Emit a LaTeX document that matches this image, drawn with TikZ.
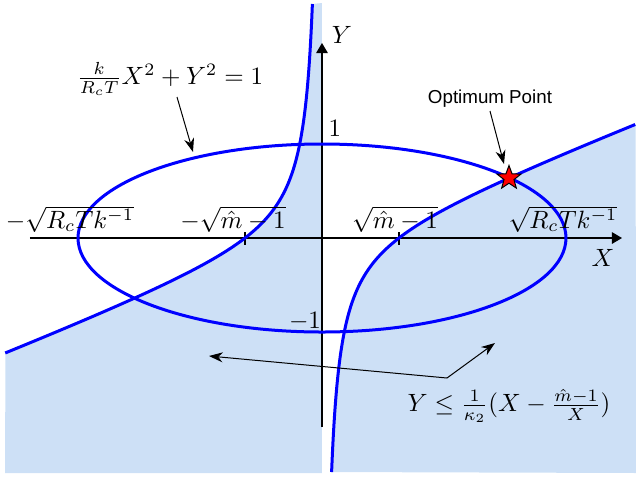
\documentclass[tikz,border=0pt]{standalone}
\usepackage{fontspec}
\newfontfamily\helv{Liberation Sans}
\usetikzlibrary{arrows.meta,shapes.geometric}
\definecolor{shadeblue}{RGB}{205,224,246}
\begin{document}
\begin{tikzpicture}[x=0.4pt,y=-0.4pt,
  curve/.style={blue,line width=1.2pt},
  axisline/.style={line width=0.45pt,-{Triangle[length=4pt,width=4.6pt]}},
  tickline/.style={line width=0.6pt},
  note/.style={line width=0.4pt,-{Stealth[length=5.5pt,width=4pt]}},
  lbl/.style={inner sep=0pt}]
\useasboundingbox (0,0) rectangle (636,476);
% shaded regions  Y <= (1/kappa2)(X-(m-1)/X)
\fill[shadeblue] (322,473) -- (322,3) -- plot[variable=\s,domain=-2.08:1.415,samples=120] ({322-77*exp(\s)},{238+59.4*sinh(\s)}) -- (5,473) -- cycle;
\fill[shadeblue] plot[variable=\s,domain=-2.08:1.405,samples=120] ({322+77*exp(\s)},{238-59.4*sinh(\s)}) -- (636,473) -- cycle;
% axes
\coordinate (xs) at (30,238);
\coordinate (xe) at (622,238);
\coordinate (ys) at (322,427);
\coordinate (ye) at (322,43);
\draw[axisline] (xs) -- (xe);
\draw[axisline] (ys) -- (ye);
% ticks
\draw[tickline] (245,232) -- (245,245);
\draw[tickline] (399,232) -- (399,245);
\draw[tickline] (313,144) -- (331,144);
\draw[tickline] (313,332) -- (331,332);
% ellipse
\draw[curve] (322,238) ellipse [x radius=244, y radius=94];
% hyperbola branches
\draw[curve] plot[variable=\s,domain=-2.08:1.415,samples=150] ({322-77*exp(\s)},{238+59.4*sinh(\s)});
\draw[curve] plot[variable=\s,domain=-2.08:1.405,samples=150] ({322+77*exp(\s)},{238-59.4*sinh(\s)});
% optimum point
\node[star,star points=5,star point ratio=2.4,minimum size=10pt,inner sep=0pt,fill=red,draw=black,line width=0.4pt] (opt) at (509,178) {};
% axis labels
\node[lbl] (lx) at (603,258) {$X$};
\node[lbl] (ly) at (342,35) {$Y$};
\node[lbl] (l1) at (335,128) {$1$};
\node[lbl] (lm1) at (305,321) {$-1$};
\node[lbl] (la) at (70,219) {$-\sqrt{R_cTk^{-1}}$};
\node[lbl] (lb) at (233,219) {$-\sqrt{\hat{m}-1}$};
\node[lbl] (lc) at (395,219) {$\sqrt{\hat{m}-1}$};
\node[lbl] (ld) at (563,219) {$\sqrt{R_cTk^{-1}}$};
% annotations
\node[lbl] (eqe) at (170,79) {$\frac{k}{R_cT}X^2+Y^2=1$};
\coordinate (ea) at (177,97);
\coordinate (eb) at (193,152);
\draw[note] (ea) -- (eb);
\node[lbl,font=\helv\fontsize{7.5}{9}\selectfont] (opl) at (490,99) {Optimum Point};
\coordinate (oa) at (490,111);
\coordinate (ob) at (504,164);
\draw[note] (oa) -- (ob);
\node[lbl] (eqh) at (509,406) {$Y\leq\frac{1}{\kappa_2}(X-\frac{\hat{m}-1}{X})$};
\coordinate (hj) at (447,378);
\coordinate (hl) at (209,356);
\coordinate (hr) at (495,343);
\draw[note] (hj) -- (hl);
\draw[note] (hj) -- (hr);
\end{tikzpicture}
\end{document}
